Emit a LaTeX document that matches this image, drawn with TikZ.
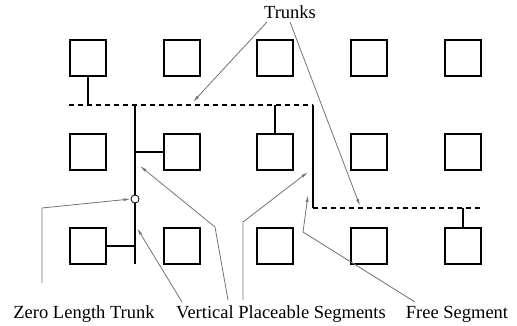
\documentclass[tikz,border=0pt]{standalone}
\usepackage{fontspec}
\setmainfont{Liberation Serif}
\usepackage{tikz}
\usetikzlibrary{arrows.meta}

\begin{document}
\begin{tikzpicture}[x=1pt,y=-1pt,
  cell/.style={draw=black,line width=2pt,minimum size=36pt,inner sep=0pt},
  trunk/.style={line width=2pt,dash pattern=on 5pt off 4pt},
  wire/.style={line width=2pt},
  pointer/.style={draw=black!55,line width=0.8pt,-{Latex[length=7pt,width=3pt]}},
  lbl/.style={font=\fontsize{18.5}{22}\selectfont}]
\useasboundingbox (0,0) rectangle (517,326);
\node[cell] (b11) at (88,58) {};
\node[cell] (b12) at (182,58) {};
\node[cell] (b13) at (275,58) {};
\node[cell] (b14) at (369,58) {};
\node[cell] (b15) at (463,58) {};
\node[cell] (b21) at (88,152) {};
\node[cell] (b22) at (182,152) {};
\node[cell] (b23) at (275,152) {};
\node[cell] (b24) at (369,152) {};
\node[cell] (b25) at (463,152) {};
\node[cell] (b31) at (88,246) {};
\node[cell] (b32) at (182,246) {};
\node[cell] (b33) at (275,246) {};
\node[cell] (b34) at (369,246) {};
\node[cell] (b35) at (463,246) {};

% trunks and segments
\coordinate (t1a) at (69,105);
\coordinate (t1b) at (313,105);
\coordinate (t2a) at (313,208);
\coordinate (t2b) at (482,208);
\coordinate (s1) at (88,105);
\coordinate (s2) at (275,105);
\coordinate (s3) at (463,208);
\coordinate (va) at (135,105);
\coordinate (vb) at (135,264);
\coordinate (vc) at (135,152);
\coordinate (vd) at (135,246);
\node[draw=black,circle,fill=white,line width=0.8pt,minimum size=8pt,inner sep=0pt] (zero) at (135,199) {};

\draw[trunk] (t1a) -- (t1b);
\draw[trunk] (t2a) -- (t2b);
\draw[wire] (t1b) -- (t2a);
\draw[wire] (va) -- (zero);
\draw[wire] (zero) -- (vb);
\draw[wire] (vc) -- (b22.west);
\draw[wire] (b31.east) -- (vd);
\draw[wire] (b11.south) -- (s1);
\draw[wire] (b23.north) -- (s2);
\draw[wire] (b35.north) -- (s3);

% labels
\node[lbl] (trunks) at (290,12) {Trunks};
\node[lbl] (zlt) at (84,314) {Zero Length Trunk};
\node[lbl] (vps) at (281,314) {Vertical Placeable Segments};
\node[lbl] (free) at (457,314) {Free Segment};

\coordinate (p1) at (267,22);
\coordinate (p2) at (290,22);
\coordinate (q1) at (193,102);
\coordinate (q2) at (360,206);
\draw[pointer] (p1) -- (q1);
\draw[pointer] (p2) -- (q2);

\coordinate (z0) at (42,283);
\draw[pointer] (z0) -- (42,208) -- (zero.west);

\coordinate (v0) at (228,300);
\coordinate (v1) at (182,302);
\coordinate (v2) at (243,300);
\draw[pointer] (v0) -- (215,227) -- (140,166);
\draw[pointer] (v1) -- (137,228);
\draw[pointer] (v2) -- (243,222) -- (308,172);

\coordinate (f0) at (415,302);
\draw[pointer] (f0) -- (303,232) -- (308,195);
\end{tikzpicture}
\end{document}
